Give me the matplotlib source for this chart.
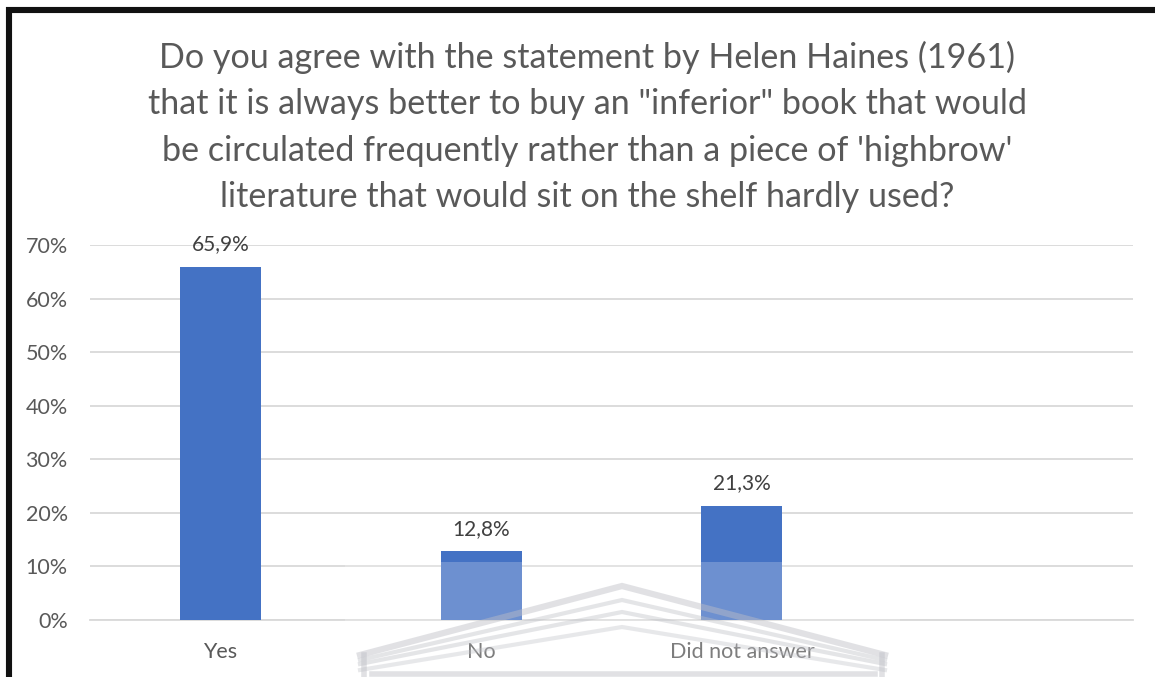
import matplotlib
matplotlib.use("Agg")
import matplotlib.pyplot as plt
from matplotlib.lines import Line2D
from matplotlib.patches import Rectangle
from matplotlib.ticker import FuncFormatter, MultipleLocator

# Survey responses
categories = ["Yes", "No", "Did not answer"]
shares = [65.9, 12.8, 21.3]  # percent of respondents
title = ("Do you agree with the statement by Helen Haines (1961)\n"
         "that it is always better to buy an \"inferior\" book that would\n"
         "be circulated frequently rather than a piece of 'highbrow'\n"
         "literature that would sit on the shelf hardly used?")

W, H = 1155, 677
plt.rcParams["font.family"] = ["Lato", "DejaVu Sans"]
text_color = "#595959"
bar_color = "#4472C4"

fig = plt.figure(figsize=(W / 100, H / 100), dpi=100)
fig.patch.set_facecolor("white")

ax = fig.add_axes([90 / W, 1 - 620 / H, (1133 - 90) / W, (620 - 245) / H])
x = list(range(len(categories)))
ax.bar(x, shares, width=0.31, color=bar_color, zorder=3)
for xi, v in zip(x, shares):
    ax.annotate(f"{v:.1f}%".replace(".", ","), (xi, v), xytext=(0, 9),
                textcoords="offset points", ha="center", va="bottom",
                fontsize=15, color="#404040")

ax.set_xlim(-0.5, 3.5)
ax.set_ylim(0, 70)
ax.yaxis.set_major_locator(MultipleLocator(10))
ax.yaxis.set_major_formatter(FuncFormatter(lambda v, _: f"{v:.0f}%"))
ax.set_xticks(x)
ax.set_xticklabels(categories)
ax.tick_params(axis="both", length=0, labelsize=15.5, labelcolor=text_color)
ax.tick_params(axis="y", pad=16)
ax.tick_params(axis="x", pad=16)
ax.grid(axis="y", color="#D9D9D9", linewidth=1.3, zorder=0)
for s in ax.spines.values():
    s.set_visible(False)
ax.spines["bottom"].set_visible(True)
ax.spines["bottom"].set_color("#D9D9D9")
ax.spines["bottom"].set_linewidth(1.3)

fig.text(587 / W, 1 - 127 / H, title, ha="center", va="center",
         fontsize=24.6, color=text_color, linespacing=1.56)


def fx(px):
    return px / W


def fy(py):
    return 1 - py / H


# Frame along the top and left edges
fig.add_artist(Line2D([fx(6), fx(W)], [fy(9.5), fy(9.5)], color="#111111",
                      linewidth=4.4, solid_capstyle="butt"))
fig.add_artist(Line2D([fx(9), fx(9)], [fy(7), fy(H)], color="#111111",
                      linewidth=4.4, solid_capstyle="butt"))

# Faint roof-shaped emblem over the lower part of the chart
fig.add_artist(Rectangle((fx(345), fy(H)), fx(900) - fx(345), fy(562) - fy(H),
                         transform=fig.transFigure, facecolor="white",
                         alpha=0.22, edgecolor="none", zorder=5))
roof_col = "#BDBEC5"
for apex, drop, lw, a in [(586, 655, 4.5, 0.45), (600, 660, 3.0, 0.4),
                          (612, 664, 3.0, 0.4), (627, 670, 3.0, 0.35)]:
    fig.add_artist(Line2D([fx(360), fx(622), fx(885)],
                          [fy(drop), fy(apex), fy(drop)],
                          color=roof_col, linewidth=lw, alpha=a, zorder=6,
                          solid_joinstyle="miter"))
for xv in (364, 882):
    fig.add_artist(Line2D([fx(xv), fx(xv)], [fy(655), fy(H)], color=roof_col,
                          linewidth=4, alpha=0.45, zorder=6))
fig.add_artist(Line2D([fx(372), fx(875)], [fy(674), fy(674)], color=roof_col,
                      linewidth=4, alpha=0.45, zorder=6))

fig.savefig("out.png", dpi=100, facecolor="white")
